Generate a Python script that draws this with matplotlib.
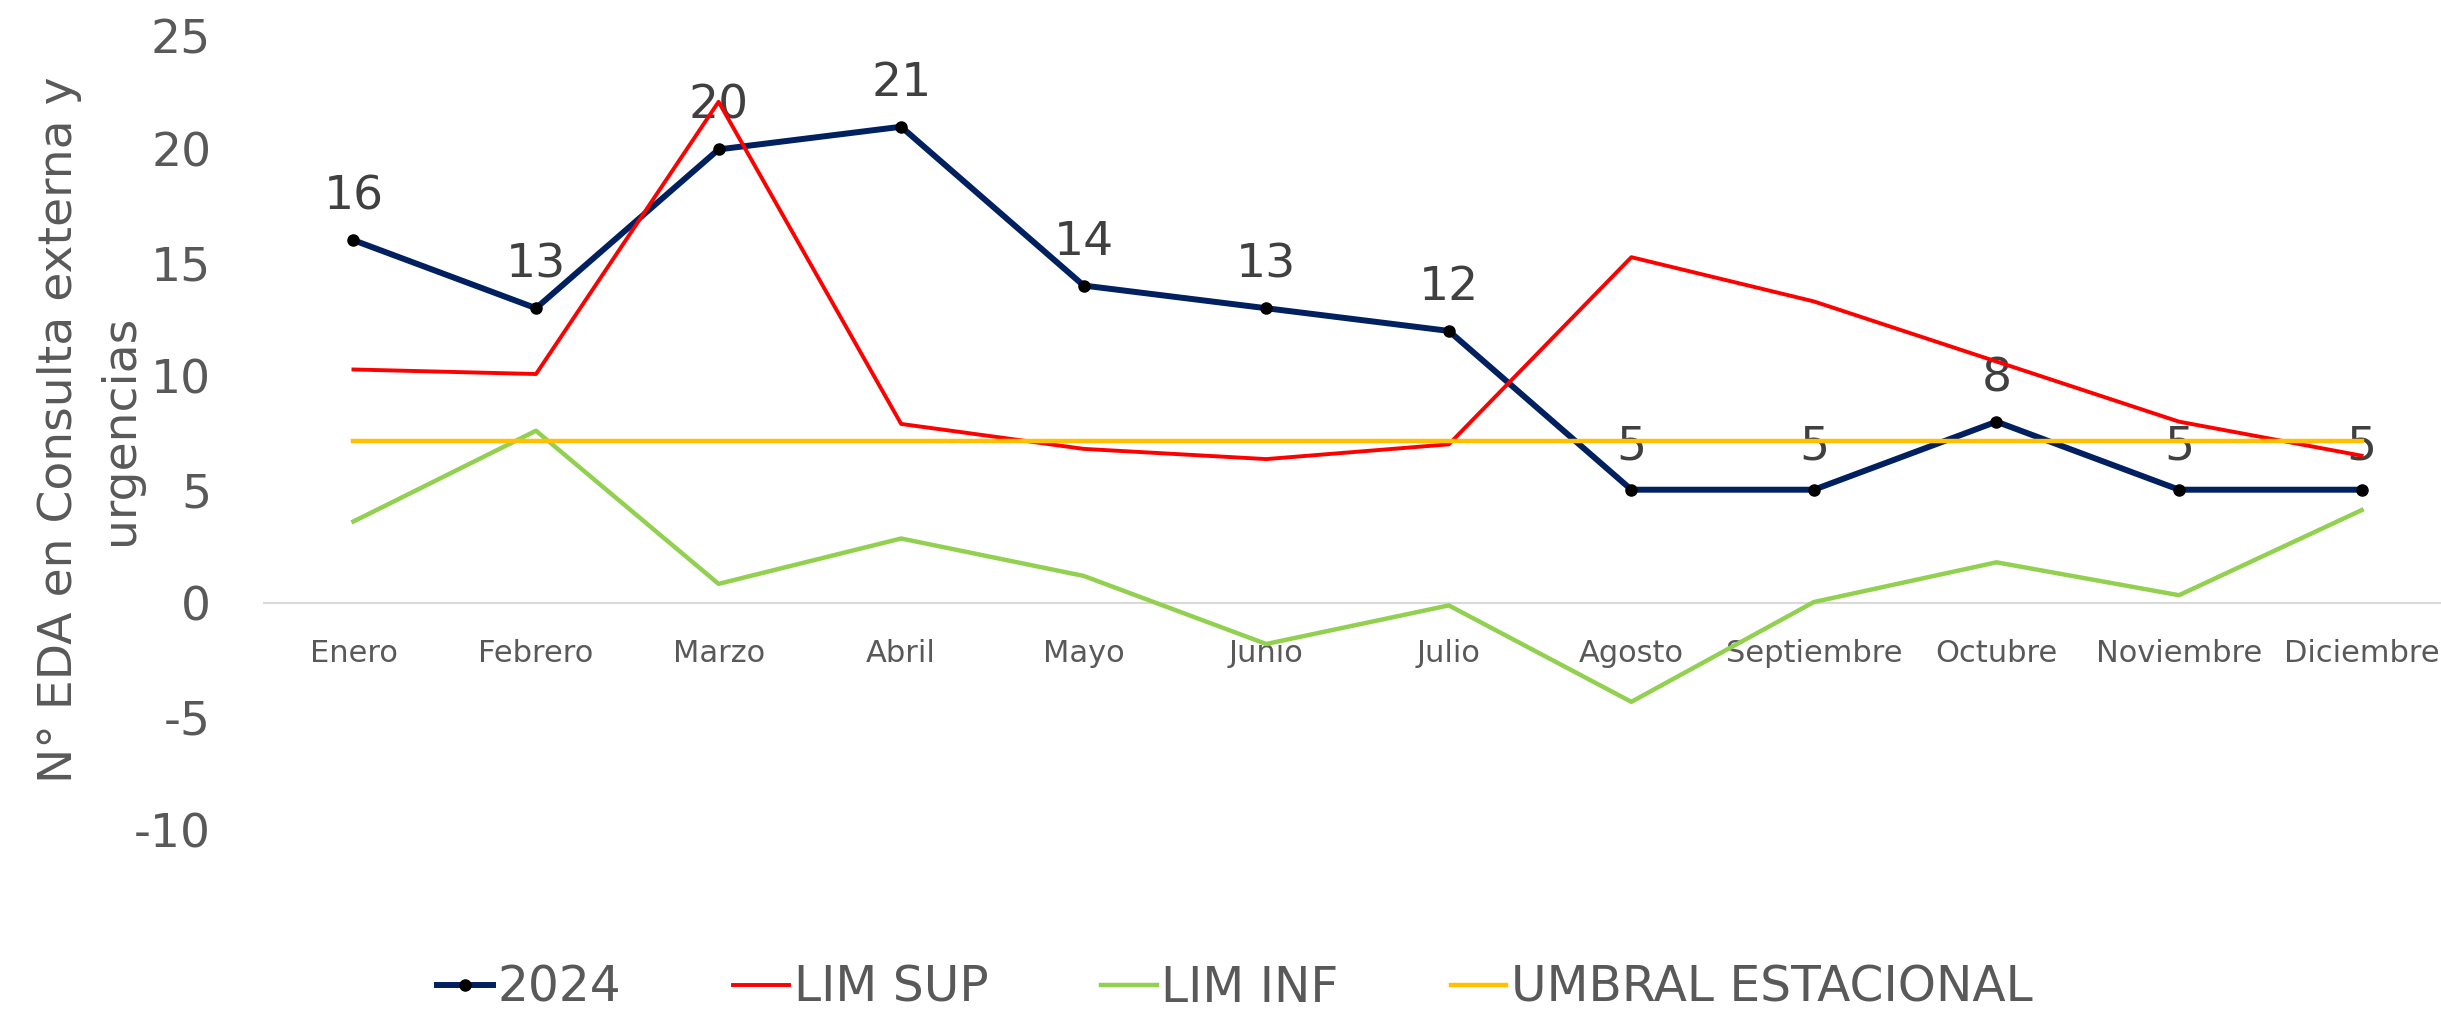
import matplotlib
matplotlib.use('Agg')
import matplotlib.pyplot as plt

months = ['Enero', 'Febrero', 'Marzo', 'Abril', 'Mayo', 'Junio', 'Julio',
          'Agosto', 'Septiembre', 'Octubre', 'Noviembre', 'Diciembre']
serie_2024 = [16, 13, 20, 21, 14, 13, 12, 5, 5, 8, 5, 5]
lim_sup = [10.3, 10.1, 22.1, 7.9, 6.8, 6.35, 7.0, 15.25, 13.3, 10.65, 8.0, 6.5]
lim_inf = [3.6, 7.6, 0.85, 2.85, 1.2, -1.8, -0.1, -4.35, 0.05, 1.8, 0.35, 4.1]
umbral = [7.15] * 12
y_ticks = [-10, -5, 0, 5, 10, 15, 20, 25]
y_label = 'N° EDA en Consulta externa y\nurgencias'

font = 'DejaVu Sans'
grey = '#595959'

W, H = 2441, 1015
fig = plt.figure(figsize=(W / 100, H / 100), dpi=100)
ax = fig.add_axes([264 / W, 1 - 830 / H, (W - 264) / W, (830 - 36) / H])

x = list(range(len(months)))
ax.plot(x, serie_2024, color='#002060', lw=4.3, marker='o', ms=8,
        mfc='black', mec='black', label='2024', zorder=3)
ax.plot(x, lim_sup, color='#FF0000', lw=2.8, label='LIM SUP', zorder=4)
ax.plot(x, lim_inf, color='#92D050', lw=3.2, label='LIM INF', zorder=4)
ax.plot(x, umbral, color='#FFC000', lw=3.2, label='UMBRAL ESTACIONAL', zorder=4)

for xi, v in zip(x, serie_2024):
    ax.annotate(str(v), (xi, v), xytext=(0, 31), textcoords='offset points',
                ha='center', va='center', fontsize=34, color='#404040',
                family=font, zorder=2)

ax.set_xlim(-0.49, 11.435)
ax.set_ylim(-10, 25)
ax.set_yticks(y_ticks)
ax.set_yticklabels([str(t) for t in y_ticks])
ax.set_xticks(x)
ax.set_xticklabels(months)

for s in ['top', 'right', 'left']:
    ax.spines[s].set_visible(False)
ax.spines['bottom'].set_position(('data', 0))
ax.spines['bottom'].set_color('#D9D9D9')
ax.spines['bottom'].set_linewidth(1.5)
ax.spines['bottom'].set_zorder(1)

ax.tick_params(axis='y', length=0, pad=38, labelsize=34, labelcolor=grey)
ax.tick_params(axis='x', length=0, pad=26, labelsize=22, labelcolor=grey)
for lab in ax.get_yticklabels() + ax.get_xticklabels():
    lab.set_family(font)

ax.patch.set_alpha(0)

fig.text(90 / W, 1 - 430 / H, y_label, rotation=90, ha='center', va='center',
         multialignment='center', fontsize=34, color=grey, family=font,
         linespacing=1.45)

handles, labels = ax.get_legend_handles_labels()
leg = fig.legend(handles, labels, loc='center', bbox_to_anchor=(0.506, 1 - 988 / H),
                 ncol=4, frameon=False, handlelength=1.15, handletextpad=0.1,
                 columnspacing=2.3, prop={'family': font, 'size': 35})
for t in leg.get_texts():
    t.set_color(grey)

fig.savefig('out.png', dpi=100)
